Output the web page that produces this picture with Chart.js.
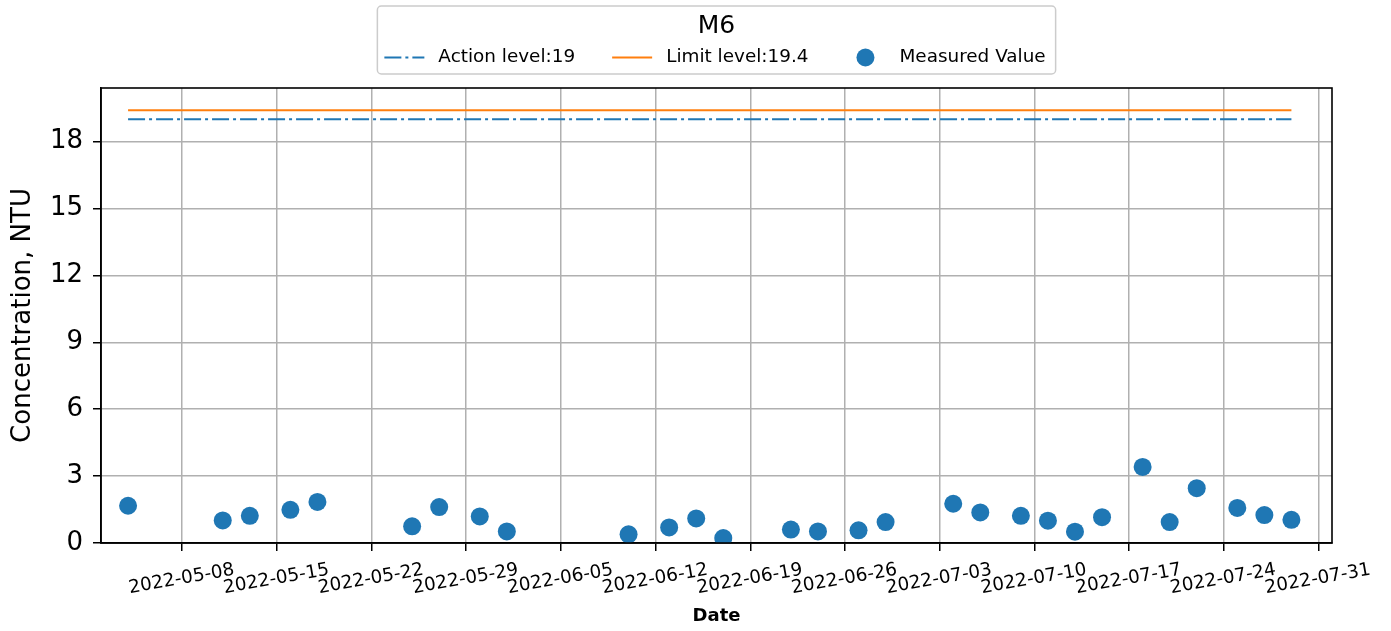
<!DOCTYPE html>
<html>
<head>
<meta charset="utf-8">
<title>M6</title>
<script src="https://cdn.jsdelivr.net/npm/chart.js@4.4.0/dist/chart.umd.min.js"></script>
<style>
  html, body { margin: 0; padding: 0; background: #fff; }
  #chart-1 { display: block; }
</style>
</head>
<body>
<canvas id="chart-1" width="1391" height="631"></canvas>
<script>
const stationName = "M6";
const measureDates = [
  "2022-05-04", "2022-05-11", "2022-05-13", "2022-05-16", "2022-05-18",
  "2022-05-25", "2022-05-27", "2022-05-30", "2022-06-01", "2022-06-10",
  "2022-06-13", "2022-06-15", "2022-06-17", "2022-06-22", "2022-06-24",
  "2022-06-27", "2022-06-29", "2022-07-04", "2022-07-06", "2022-07-09",
  "2022-07-11", "2022-07-13", "2022-07-15", "2022-07-18", "2022-07-20",
  "2022-07-22", "2022-07-25", "2022-07-27", "2022-07-29",
];
const measuredValues = [
  1.67, 1.01, 1.22, 1.49, 1.84,
  0.75, 1.61, 1.19, 0.52, 0.39,
  0.70, 1.10, 0.22, 0.60, 0.52,
  0.57, 0.94, 1.76, 1.37, 1.22,
  1.00, 0.51, 1.16, 3.41, 0.94,
  2.46, 1.57, 1.25, 1.04,
];
const actionLevel = 19;
const limitLevel = 19.4;
const tickDates = [
  "2022-05-08", "2022-05-15", "2022-05-22", "2022-05-29", "2022-06-05",
  "2022-06-12", "2022-06-19", "2022-06-26", "2022-07-03", "2022-07-10",
  "2022-07-17", "2022-07-24", "2022-07-31",
];
const yTicks = [0, 3, 6, 9, 12, 15, 18];
const xRange = ["2022-05-02", "2022-08-01"];
const yRange = [0, 20.4];

// x values are days counted from the first tick date
const baseTime = Date.parse(tickDates[0]);
const toDay = (s) => (Date.parse(s) - baseTime) / 86400000;
const dayLabel = {};
tickDates.forEach((d) => (dayLabel[toDay(d)] = d));

const firstDay = toDay(measureDates[0]);
const lastDay = toDay(measureDates[measureDates.length - 1]);

const blue = "#1f77b4";
const orange = "#ff7f0e";
const font = '"DejaVu Sans", sans-serif';
const dashDot = [17, 4, 3, 4];

const legendEntries = [
  { text: "Action level:" + actionLevel, kind: "dash", color: blue },
  { text: "Limit level:" + limitLevel, kind: "line", color: orange },
  { text: "Measured Value", kind: "dot", color: blue },
];

// top and right spines
const frame = {
  id: "frame",
  afterDatasetsDraw(chart) {
    const { ctx, chartArea: a } = chart;
    ctx.save();
    ctx.strokeStyle = "#000";
    ctx.lineWidth = 1.6;
    ctx.strokeRect(a.left, a.top, a.right - a.left, a.bottom - a.top);
    ctx.restore();
  },
};

// matplotlib-like legend box above the plot
const legendBox = {
  id: "legendBox",
  afterDraw(chart) {
    const { ctx, chartArea } = chart;
    const cx = (chartArea.left + chartArea.right) / 2;
    const handleW = 40, handlePad = 14, gap = 37;
    ctx.save();
    ctx.font = "18.4px " + font;
    const widths = legendEntries.map((e) => ctx.measureText(e.text).width);
    const inner = widths.reduce((a, b) => a + b, 0) +
      legendEntries.length * (handleW + handlePad) + (legendEntries.length - 1) * gap;
    const boxW = inner + 17;
    const boxL = cx - boxW / 2, boxT = 6, boxH = 68;

    ctx.beginPath();
    ctx.roundRect(boxL, boxT, boxW, boxH, 4);
    ctx.fillStyle = "rgba(255,255,255,0.8)";
    ctx.fill();
    ctx.strokeStyle = "#cccccc";
    ctx.lineWidth = 1.5;
    ctx.stroke();

    ctx.fillStyle = "#000";
    ctx.textAlign = "center";
    ctx.textBaseline = "middle";
    ctx.font = "25px " + font;
    ctx.fillText(stationName, cx, 26);

    ctx.font = "18.4px " + font;
    ctx.textAlign = "left";
    const rowY = 57.5;
    let x = boxL + 7;
    legendEntries.forEach((e, i) => {
      if (e.kind === "dot") {
        ctx.beginPath();
        ctx.arc(x + handleW / 2, rowY, 9, 0, Math.PI * 2);
        ctx.fillStyle = e.color;
        ctx.fill();
      } else {
        ctx.beginPath();
        ctx.setLineDash(e.kind === "dash" ? dashDot : []);
        ctx.moveTo(x, rowY);
        ctx.lineTo(x + handleW, rowY);
        ctx.strokeStyle = e.color;
        ctx.lineWidth = 2;
        ctx.stroke();
        ctx.setLineDash([]);
      }
      ctx.fillStyle = "#000";
      ctx.fillText(e.text, x + handleW + handlePad, rowY);
      x += handleW + handlePad + widths[i] + gap;
    });
    ctx.restore();
  },
};

const data = {
  datasets: [
    {
      type: "line",
      label: "Action level:" + actionLevel,
      data: [{ x: firstDay, y: actionLevel }, { x: lastDay, y: actionLevel }],
      borderColor: blue,
      borderWidth: 2,
      borderDash: dashDot,
      pointRadius: 0,
      clip: 0,
    },
    {
      type: "line",
      label: "Limit level:" + limitLevel,
      data: [{ x: firstDay, y: limitLevel }, { x: lastDay, y: limitLevel }],
      borderColor: orange,
      borderWidth: 2,
      pointRadius: 0,
      clip: 0,
    },
    {
      type: "scatter",
      label: "Measured Value",
      data: measureDates.map((d, i) => ({ x: toDay(d), y: measuredValues[i] })),
      backgroundColor: blue,
      borderWidth: 0,
      pointRadius: 9,
      pointHoverRadius: 9,
      clip: 0,
    },
  ],
};

const config = {
  type: "scatter",
  data: data,
  plugins: [frame, legendBox],
  options: {
    responsive: false,
    animation: false,
    devicePixelRatio: 1,
    layout: { padding: { top: 88, right: 59, left: 0, bottom: 0 } },
    scales: {
      x: {
        type: "linear",
        min: toDay(xRange[0]),
        max: toDay(xRange[1]),
        afterBuildTicks: (scale) => {
          scale.ticks = tickDates.map((d) => ({ value: toDay(d) }));
        },
        afterFit: (scale) => {
          scale.height = 88;
        },
        ticks: {
          autoSkip: false,
          minRotation: 10,
          maxRotation: 10,
          labelOffset: 52,
          padding: 8,
          color: "#000",
          font: { family: font, size: 18.4 },
          callback: (value) => dayLabel[value] || "",
        },
        grid: {
          color: "#b0b0b0",
          lineWidth: 1.5,
          tickColor: "#000",
          tickWidth: 1.5,
          tickLength: 8,
        },
        border: { color: "#000", width: 1.6 },
        title: {
          display: true,
          text: "Date",
          color: "#000",
          font: { family: font, size: 18, weight: "bold" },
          padding: { top: 0, bottom: 4 },
        },
      },
      y: {
        min: yRange[0],
        max: yRange[1],
        afterBuildTicks: (scale) => {
          scale.ticks = yTicks.map((v) => ({ value: v }));
        },
        afterFit: (scale) => {
          scale.width = 101;
        },
        ticks: {
          padding: 10,
          color: "#000",
          font: { family: font, size: 26 },
        },
        grid: {
          color: "#b0b0b0",
          lineWidth: 1.5,
          tickColor: "#000",
          tickWidth: 1.5,
          tickLength: 8,
        },
        border: { color: "#000", width: 1.6 },
        title: {
          display: true,
          text: "Concentration, NTU",
          color: "#000",
          font: { family: font, size: 26 },
          padding: { top: 8, bottom: 0 },
        },
      },
    },
    plugins: {
      legend: { display: false },
      tooltip: { enabled: false },
    },
  },
};

const chart1 = new Chart(document.getElementById("chart-1"), config);
</script>
</body>
</html>
